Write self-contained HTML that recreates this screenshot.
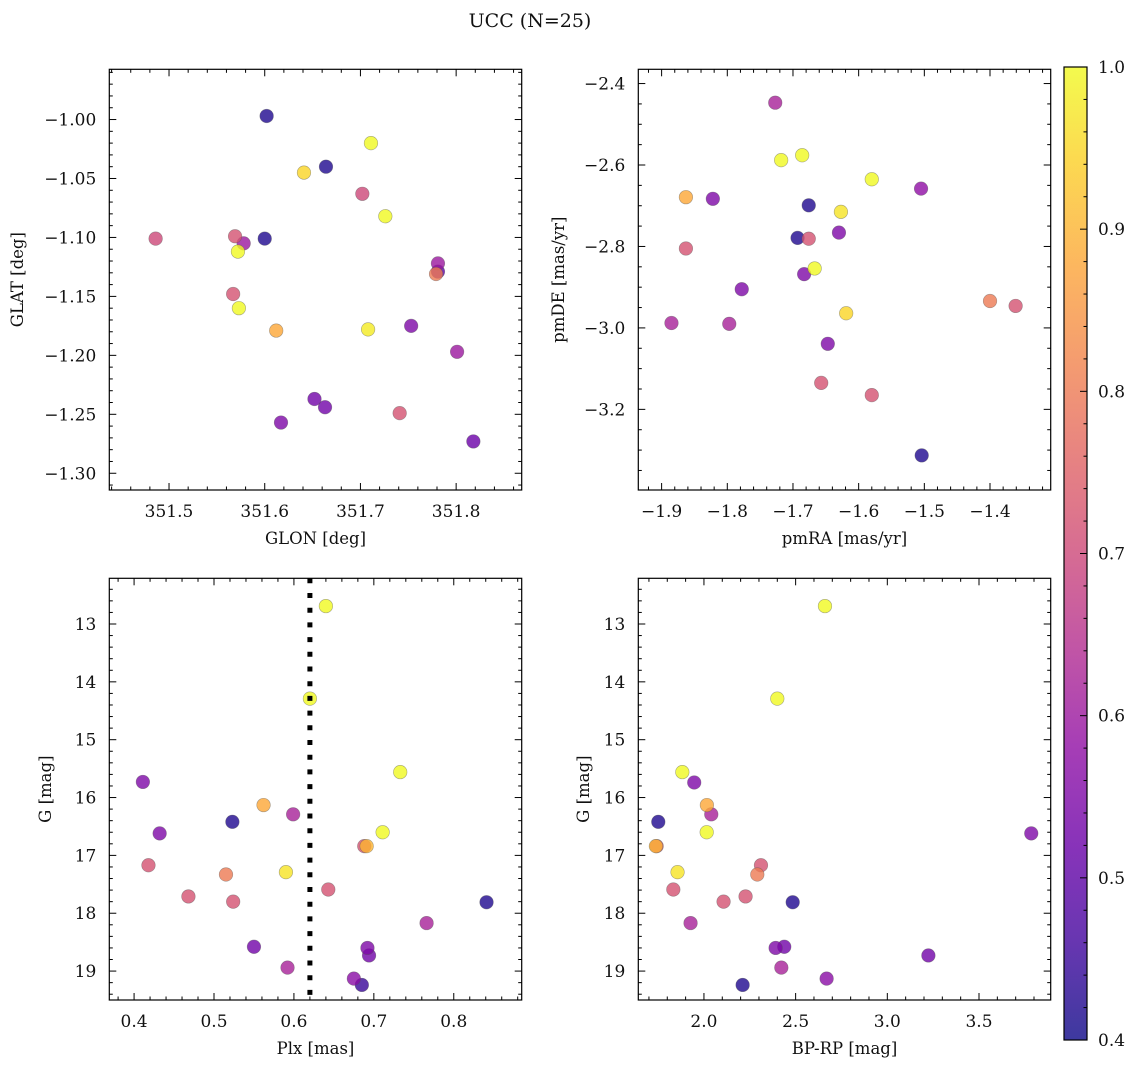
<!DOCTYPE html>
<html><head><meta charset="utf-8"><title>UCC (N=25)</title>
<style>
html,body{margin:0;padding:0;background:#fff;}
svg{display:block;font-family:"DejaVu Serif","Liberation Serif",serif;}
</style></head>
<body>
<svg id="fig" width="1136" height="1067" viewBox="0 0 1136 1067" xmlns="http://www.w3.org/2000/svg">
<text x="530" y="27" font-size="19" text-anchor="middle" fill="#111">UCC (N=25)</text>
</svg>
<script>
// ---- Panel 1: GLON vs GLAT ----
const glonX = [351.602,351.711,351.664,351.641,351.702,351.726,351.486,351.569,351.578,351.600,351.572,351.781,351.781,351.779,351.567,351.573,351.612,351.708,351.753,351.801,351.652,351.663,351.741,351.617,351.818];
const glatY = [-0.997,-1.020,-1.040,-1.045,-1.063,-1.082,-1.101,-1.099,-1.105,-1.101,-1.112,-1.122,-1.129,-1.131,-1.148,-1.160,-1.179,-1.178,-1.175,-1.197,-1.237,-1.244,-1.249,-1.257,-1.273];
const probP1 = [0.42,1.0,0.42,0.95,0.70,1.0,0.70,0.72,0.60,0.42,1.0,0.60,0.50,0.80,0.72,1.0,0.88,0.98,0.55,0.60,0.53,0.53,0.72,0.55,0.52];
// ---- Panel 2: pmRA vs pmDE ----
const pmraX = [-1.727,-1.718,-1.686,-1.580,-1.505,-1.863,-1.822,-1.676,-1.627,-1.630,-1.693,-1.676,-1.863,-1.667,-1.683,-1.778,-1.400,-1.361,-1.619,-1.885,-1.797,-1.647,-1.657,-1.580,-1.504];
const pmdeY = [-2.447,-2.588,-2.576,-2.635,-2.658,-2.679,-2.683,-2.699,-2.715,-2.766,-2.779,-2.781,-2.805,-2.854,-2.868,-2.905,-2.934,-2.946,-2.964,-2.988,-2.990,-3.039,-3.135,-3.165,-3.313];
const probP2 = [0.62,1.0,1.0,1.0,0.58,0.88,0.55,0.42,0.97,0.55,0.42,0.72,0.72,1.0,0.55,0.55,0.80,0.72,0.95,0.62,0.62,0.55,0.72,0.72,0.42];
// ---- Panel 3: Plx vs G ----
const plxX = [0.640,0.620,0.733,0.411,0.562,0.599,0.523,0.432,0.711,0.688,0.691,0.418,0.590,0.515,0.643,0.468,0.524,0.841,0.766,0.550,0.692,0.694,0.592,0.675,0.685];
const gP3 = [12.69,14.29,15.56,15.73,16.13,16.29,16.42,16.62,16.60,16.84,16.84,17.17,17.29,17.33,17.59,17.71,17.80,17.81,18.17,18.58,18.60,18.73,18.94,19.13,19.24];
const probP3 = [1.0,1.0,1.0,0.55,0.88,0.62,0.42,0.55,1.0,0.72,0.90,0.72,0.97,0.80,0.72,0.72,0.72,0.42,0.62,0.53,0.55,0.53,0.62,0.57,0.45];
const plxRef = [0.620];
// ---- Panel 4: BP-RP vs G ----
const bprpX = [2.660,2.400,1.882,1.947,2.016,2.040,1.751,2.015,3.785,1.742,1.738,2.311,1.856,2.291,1.833,2.227,2.107,2.484,1.927,2.391,2.438,3.224,2.422,2.669,2.211];
const gP4 = [12.69,14.29,15.56,15.74,16.13,16.29,16.42,16.60,16.62,16.84,16.84,17.17,17.29,17.33,17.59,17.71,17.80,17.81,18.17,18.60,18.58,18.73,18.94,19.13,19.24];
const probP4 = [1.0,1.0,1.0,0.55,0.88,0.62,0.42,1.0,0.55,0.72,0.90,0.72,0.97,0.80,0.72,0.72,0.72,0.42,0.62,0.55,0.53,0.53,0.62,0.57,0.42];
// ---- tick labels ----
const p1XTicks = [351.5,351.6,351.7,351.8];
const p1YTicks = [-1.00,-1.05,-1.10,-1.15,-1.20,-1.25,-1.30];
const p2XTicks = [-1.9,-1.8,-1.7,-1.6,-1.5,-1.4];
const p2YTicks = [-2.4,-2.6,-2.8,-3.0,-3.2];
const p3XTicks = [0.4,0.5,0.6,0.7,0.8];
const gTicks = [13,14,15,16,17,18,19];
const p4XTicks = [2.0,2.5,3.0,3.5];
const cbTicks = [0.4,0.5,0.6,0.7,0.8,0.9,1.0];

const NS = "http://www.w3.org/2000/svg";
const svg = document.getElementById('fig');
const VMIN = 0.4, VMAX = 1.0;
const FS = 17;
const plasmaStops = ["#0d0887","#41049d","#6a00a8","#8f0da4","#b12a90","#cc4778","#e16462","#f2844b","#fca636","#fcce25","#f0f921"];
function hex2rgb(h){return [parseInt(h.substr(1,2),16),parseInt(h.substr(3,2),16),parseInt(h.substr(5,2),16)];}
function plasma(t){
  t=Math.max(0,Math.min(1,t));
  const f=t*10, i=Math.min(9,Math.floor(f)), u=f-i;
  const a=hex2rgb(plasmaStops[i]), b=hex2rgb(plasmaStops[i+1]);
  return "rgb("+[0,1,2].map(k=>Math.round(a[k]+(b[k]-a[k])*u)).join(",")+")";
}
function el(tag, attrs, parent){
  const e=document.createElementNS(NS,tag);
  for(const k in attrs) e.setAttribute(k,attrs[k]);
  (parent||svg).appendChild(e);
  return e;
}
function lin(d0,d1,r0,r1){return v=>r0+(v-d0)/(d1-d0)*(r1-r0);}
function fmt(v,dec){return v.toFixed(dec).replace('-','\u2212');}

function drawPanel(cfg){
  const g=el('g',{});
  
  
  const sx=lin(cfg.xd[0],cfg.xd[1],cfg.L,cfg.R);
  const sy=lin(cfg.yd[0],cfg.yd[1],cfg.T,cfg.B);
  const idx=cfg.xs.map((_,i)=>i).sort((a,b)=>cfg.ps[a]-cfg.ps[b]);
  idx.forEach(i=>{
    const c=el('circle',{cx:sx(cfg.xs[i]),cy:sy(cfg.ys[i]),r:6.8,fill:plasma((cfg.ps[i]-VMIN)/(VMAX-VMIN)),'fill-opacity':0.8,stroke:'#555','stroke-opacity':0.5,'stroke-width':0.6},g);
    
    
  });
  if(cfg.vline){
    cfg.vline.forEach(v=>{
      const ln=el('line',{x1:sx(v),x2:sx(v),y1:cfg.T,y2:cfg.B,stroke:'#000','stroke-width':5,'stroke-dasharray':'5 9.7'},g);
      
      
    });
  }
  const fr=el('rect',{x:cfg.L,y:cfg.T,width:cfg.R-cfg.L,height:cfg.B-cfg.T,fill:'none',stroke:'#000','stroke-width':1.2},g);
  
  
  const tk=(x1,y1,x2,y2)=>el('line',{x1:x1,y1:y1,x2:x2,y2:y2,stroke:'#000','stroke-width':1},g);
  const xMin=Math.min(cfg.xd[0],cfg.xd[1]), xMax=Math.max(cfg.xd[0],cfg.xd[1]);
  const yMin=Math.min(cfg.yd[0],cfg.yd[1]), yMax=Math.max(cfg.yd[0],cfg.yd[1]);
  for(let k=Math.ceil(xMin/cfg.xm-1e-6);k*cfg.xm<=xMax+1e-9;k++){
    const v=k*cfg.xm, x=sx(v);
    if(cfg.xt.some(t=>Math.abs(t-v)<cfg.xm/10)) continue;
    tk(x,cfg.B,x,cfg.B-3.5); tk(x,cfg.T,x,cfg.T+3.5);
  }
  for(let k=Math.ceil(yMin/cfg.ym-1e-6);k*cfg.ym<=yMax+1e-9;k++){
    const v=k*cfg.ym, y=sy(v);
    if(cfg.yt.some(t=>Math.abs(t-v)<cfg.ym/10)) continue;
    tk(cfg.L,y,cfg.L+3.5,y); tk(cfg.R,y,cfg.R-3.5,y);
  }
  cfg.xt.forEach(v=>{
    const x=sx(v);
    tk(x,cfg.B,x,cfg.B-7); tk(x,cfg.T,x,cfg.T+7);
    const t=el('text',{x:x,y:cfg.B+27,'font-size':FS,'text-anchor':'middle',fill:'#111'},g);
    t.textContent=fmt(v,cfg.xdec);
    
    
  });
  cfg.yt.forEach(v=>{
    const y=sy(v);
    tk(cfg.L,y,cfg.L+7,y); tk(cfg.R,y,cfg.R-7,y);
    const t=el('text',{x:cfg.L-13,y:y+6,'font-size':FS,'text-anchor':'end',fill:'#111'},g);
    t.textContent=fmt(v,cfg.ydec);
    
    
  });
  const xt=el('text',{x:(cfg.L+cfg.R)/2,y:cfg.B+54,'font-size':16.5,'text-anchor':'middle',fill:'#111'},g);
  xt.textContent=cfg.xlabel;
  
  
  const yy=(cfg.T+cfg.B)/2;
  const yt=el('text',{x:cfg.ylx,y:yy,'font-size':16.5,'text-anchor':'middle',fill:'#111',transform:'rotate(-90 '+cfg.ylx+' '+yy+')'},g);
  yt.textContent=cfg.ylabel;
  
  
}

drawPanel({name:'glon-glat-panel',xs:glonX,ys:glatY,ps:probP1,xd:[351.4376,351.8685],yd:[-0.9574,-1.3142],L:109.3,R:521.7,T:69.3,B:490,xt:p1XTicks,yt:p1YTicks,xm:0.02,ym:0.01,xdec:1,ydec:2,xlabel:'GLON [deg]',ylabel:'GLAT [deg]',ylx:23});
drawPanel({name:'pm-panel',xs:pmraX,ys:pmdeY,ps:probP2,xd:[-1.9355,-1.3076],yd:[-2.365,-3.398],L:638.3,R:1050.7,T:69.3,B:490,xt:p2XTicks,yt:p2YTicks,xm:0.02,ym:0.05,xdec:1,ydec:1,xlabel:'pmRA [mas/yr]',ylabel:'pmDE [mas/yr]',ylx:564});
drawPanel({name:'plx-g-panel',xs:plxX,ys:gP3,ps:probP3,xd:[0.369,0.885],yd:[12.21,19.50],L:109.3,R:521.7,T:578.3,B:1000,xt:p3XTicks,yt:gTicks,xm:0.02,ym:0.2,xdec:1,ydec:0,xlabel:'Plx [mas]',ylabel:'G [mag]',ylx:51,vline:plxRef});
drawPanel({name:'cmd-panel',xs:bprpX,ys:gP4,ps:probP4,xd:[1.642,3.891],yd:[12.21,19.50],L:638.3,R:1050.7,T:578.3,B:1000,xt:p4XTicks,yt:gTicks,xm:0.1,ym:0.2,xdec:1,ydec:0,xlabel:'BP-RP [mag]',ylabel:'G [mag]',ylx:589});

(function(){
  const cb=el('g',{});
  
  
  const defs=el('defs',{},cb);
  const grad=el('linearGradient',{id:'plasmaGrad',x1:0,y1:1,x2:0,y2:0},defs);
  for(let i=0;i<=20;i++){el('stop',{offset:i/20,'stop-color':plasma(i/20)},grad);}
  const X0=1064,X1=1087,T=67,B=1040;
  el('rect',{x:X0,y:T,width:X1-X0,height:B-T,fill:'url(#plasmaGrad)','fill-opacity':0.8},cb);
  el('rect',{x:X0,y:T,width:X1-X0,height:B-T,fill:'none',stroke:'#000','stroke-width':1.2},cb);
  const sy=lin(VMIN,VMAX,B,T);
  for(let k=20;k<=50;k++){
    const v=k*0.02, y=sy(v);
    if(k%5===0) continue;
    el('line',{x1:X1,x2:X1-3.5,y1:y,y2:y,stroke:'#000','stroke-width':1},cb);
  }
  cbTicks.forEach(v=>{
    const y=sy(v);
    el('line',{x1:X1,x2:X1-7,y1:y,y2:y,stroke:'#000','stroke-width':1},cb);
    const t=el('text',{x:X1+11,y:y+6,'font-size':FS,fill:'#111'},cb);
    t.textContent=v.toFixed(1);
    
    
  });
})();
</script>
</body></html>
